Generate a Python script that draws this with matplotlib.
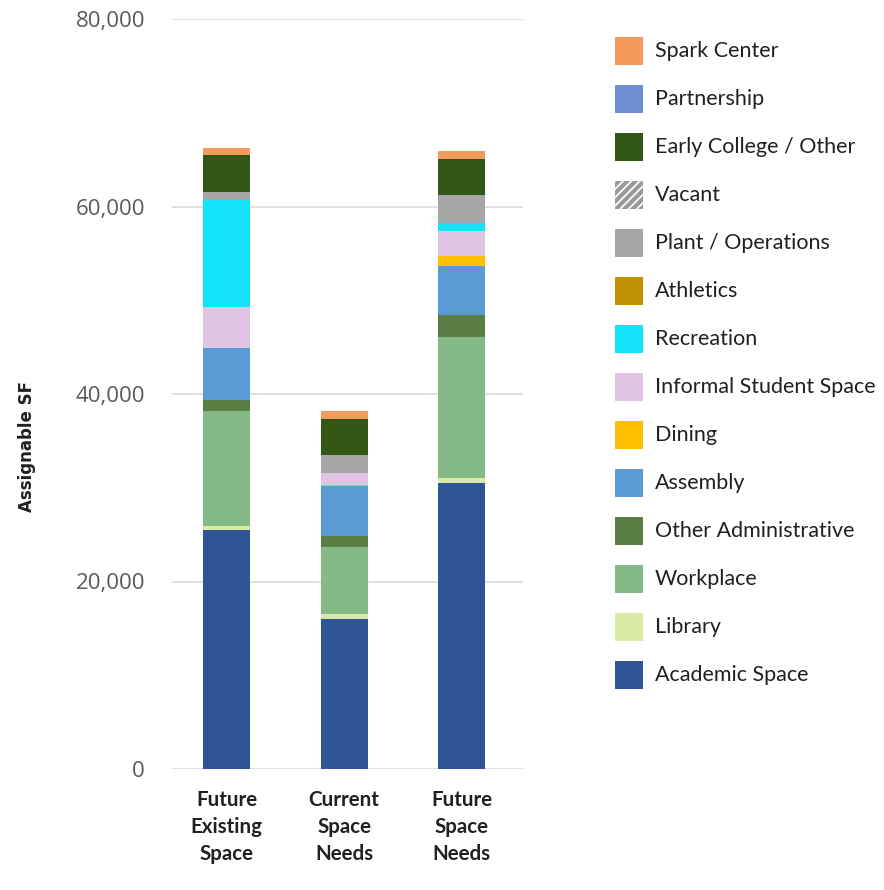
import matplotlib
matplotlib.use("Agg")
import matplotlib.pyplot as plt
from matplotlib.patches import Rectangle
from matplotlib.ticker import FuncFormatter
import numpy as np

plt.rcParams['hatch.linewidth'] = 3.0
plt.rcParams['hatch.color'] = '#9a9a9a'

bars = ['Future\nExisting\nSpace', 'Current\nSpace\nNeeds', 'Future\nSpace\nNeeds']

# stacked from bottom to top
academic = [25450, 15980, 30560]
library = [450, 530, 530]
workplace = [12250, 7170, 15020]
other_admin = [1170, 1140, 2300]
assembly = [5540, 5320, 5220]
dining = [0, 160, 1065]
informal = [4370, 1250, 2660]
recreation = [11500, 0, 890]
athletics = [0, 0, 0]
plant = [780, 1920, 3020]
vacant = [0, 0, 0]
early_college = [3940, 3830, 3830]
partnership = [0, 0, 0]
spark = [745, 850, 850]

series = [
    ('Academic Space', academic, '#2F5597'),
    ('Library', library, '#D9EAA6'),
    ('Workplace', workplace, '#84BA86'),
    ('Other Administrative', other_admin, '#5A7F45'),
    ('Assembly', assembly, '#5B9BD5'),
    ('Dining', dining, '#FFC000'),
    ('Informal Student Space', informal, '#DEC3E2'),
    ('Recreation', recreation, '#12E3FB'),
    ('Athletics', athletics, '#BF9000'),
    ('Plant / Operations', plant, '#A6A6A6'),
    ('Vacant', vacant, 'hatch'),
    ('Early College / Other', early_college, '#345715'),
    ('Partnership', partnership, '#6D8ED2'),
    ('Spark Center', spark, '#F39A5C'),
]

W, H = 884, 890
fig = plt.figure(figsize=(W / 100, H / 100), dpi=100)
ax = fig.add_axes([172/W, 121/H, 351/W, 750/H])

x = np.arange(len(bars))
bottom = np.zeros(len(bars))
for name, vals, col in series:
    vals = np.array(vals, dtype=float)
    if col == 'hatch':
        ax.bar(x, vals, 0.4, bottom=bottom, color='white', hatch='////',
               edgecolor='#9a9a9a', linewidth=0)
    else:
        ax.bar(x, vals, 0.4, bottom=bottom, color=col, linewidth=0)
    bottom += vals

ax.set_xlim(-0.464, 2.523)
ax.set_ylim(0, 80000)
ax.set_yticks([0, 20000, 40000, 60000, 80000])
ax.yaxis.set_major_formatter(FuncFormatter(lambda v, p: f'{int(v):,}'))
ax.grid(axis='y', color='#DADADA', linewidth=1.2)
ax.set_axisbelow(True)
for s in ax.spines.values():
    s.set_visible(False)
ax.tick_params(axis='both', length=0)
ax.tick_params(axis='y', pad=19.5, labelsize=16, labelcolor='#5A5A5A')
for t in ax.get_yticklabels():
    t.set_family(['Open Sans', 'DejaVu Sans'])

ax.set_xticks(x)
ax.set_xticklabels(bars, fontsize=14.8, fontweight='bold', color='#231F20',
                   family=['Lato', 'DejaVu Sans'], linespacing=1.45)
ax.tick_params(axis='x', pad=15)

fig.text(27/W, 1 - 447/H, 'Assignable SF', rotation=90, ha='center', va='center',
         fontsize=12, fontweight='bold', color='#231F20',
         family=['Liberation Sans Narrow', 'DejaVu Sans'])

# legend, top entry first
for i, (name, vals, col) in enumerate(series[::-1]):
    yc = 51 + 48 * i
    if col == 'hatch':
        r = Rectangle((615/W, 1 - (yc + 14)/H), 28/W, 28/H, transform=fig.transFigure,
                      facecolor='white', hatch='////', edgecolor='#9a9a9a', linewidth=0)
    else:
        r = Rectangle((615/W, 1 - (yc + 14)/H), 28/W, 28/H, transform=fig.transFigure,
                      facecolor=col, linewidth=0)
    fig.add_artist(r)
    fig.text(655/W, 1 - yc/H, name, ha='left', va='center', fontsize=15.5,
             color='#231F20', family=['Lato', 'DejaVu Sans'])

fig.savefig('out.png', dpi=100, facecolor='white')
